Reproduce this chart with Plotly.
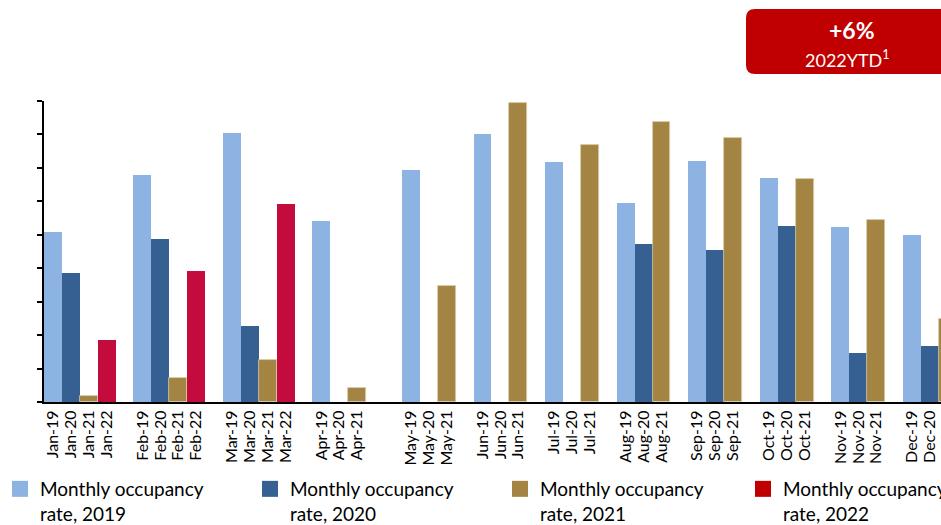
import plotly.graph_objects as go

months = ["Jan", "Feb", "Mar", "Apr", "May", "Jun", "Jul", "Aug", "Sep", "Oct", "Nov", "Dec"]
occ_2019 = [50.7, 67.9, 80.5, 54.1, 69.4, 80.2, 71.8, 59.5, 72.1, 67.0, 52.3, 49.9]
occ_2020 = [38.7, 48.7, 22.6, 0, 0, 0, 0, 47.2, 45.4, 52.6, 14.8, 16.6]
occ_2021 = [1.9, 7.3, 12.7, 4.3, 34.8, 89.4, 76.7, 83.7, 79.0, 66.6, 54.3, 24.9]
occ_2022 = [18.4, 39.1, 59.2]
series_names = ["Monthly occupancy<br>rate, 2019", "Monthly occupancy<br>rate, 2020",
                "Monthly occupancy<br>rate, 2021", "Monthly occupancy<br>rate, 2022"]
bar_colors = ["#8DB3E2", "#366092", "#A38442", "#C30C3D"]
legend_colors = ["#8DB3E2", "#366092", "#A38442", "#C00000"]
years = ["19", "20", "21", "22"]

# Build the slot layout of the category axis
categories = []
labeled = []
blank_n = [0]

def blank():
    blank_n[0] += 1
    return " " * blank_n[0]

x_by_year = {y: [] for y in years}
y_by_year = {y: [] for y in years}
values = {"19": occ_2019, "20": occ_2020, "21": occ_2021, "22": occ_2022}
for i, m in enumerate(months):
    for y in years[:3]:
        lab = f"{m}-{y}"
        categories.append(lab)
        labeled.append(lab)
        x_by_year[y].append(lab)
        y_by_year[y].append(values[y][i])
    if i < 4:
        if i < len(occ_2022):
            lab = f"{m}-22"
            categories.append(lab)
            labeled.append(lab)
            x_by_year["22"].append(lab)
            y_by_year["22"].append(occ_2022[i])
        else:
            categories.append(blank())
    if i < len(months) - 1:
        categories.append(blank())

fig = go.Figure()
for k, y in enumerate(years):
    fig.add_trace(go.Bar(
        x=x_by_year[y], y=y_by_year[y], name=series_names[k],
        marker=dict(color=bar_colors[k],
                    line=dict(width=0.8 if y == "21" else 0, color="#D9CBA6")),
        showlegend=False,
    ))
for k in range(4):
    fig.add_trace(go.Scatter(
        x=[None], y=[None], mode="markers", name=series_names[k],
        marker=dict(symbol="square", size=16, color=legend_colors[k]),
        showlegend=True, legend="legend2" if k == 3 else "legend",
    ))

W, H = 941, 525
L, R, T, B = 44, 0, 101, 123
pw, ph = W - L - R, H - T - B

def px(x):
    return (x - L) / pw

def py(y):
    return (H - B - y) / ph

# rounded red box
x0, x1, y0, y1, r = 746, 952, 9, 74, 9
rx, ry = r / pw, r / ph
path = (f"M {px(x0)+rx},{py(y0)} L {px(x1)-rx},{py(y0)} Q {px(x1)},{py(y0)} {px(x1)},{py(y0)-ry} "
        f"L {px(x1)},{py(y1)+ry} Q {px(x1)},{py(y1)} {px(x1)-rx},{py(y1)} "
        f"L {px(x0)+rx},{py(y1)} Q {px(x0)},{py(y1)} {px(x0)},{py(y1)+ry} "
        f"L {px(x0)},{py(y0)-ry} Q {px(x0)},{py(y0)} {px(x0)+rx},{py(y0)} Z")
fig.add_shape(type="path", xref="paper", yref="paper", path=path,
              fillcolor="#C00000", line=dict(width=0), layer="above")
fig.add_annotation(xref="paper", yref="paper", x=px(852), y=py(30),
                   xanchor="center", yanchor="middle",
                   text="<b>+6%</b>", showarrow=False,
                   font=dict(family="Lato", size=23, color="white"))
fig.add_annotation(xref="paper", yref="paper", x=px(847), y=py(59),
                   xanchor="center", yanchor="middle",
                   text="2022YTD<sup>1</sup>", showarrow=False,
                   font=dict(family="Lato", size=18, color="white"))

leg_common = dict(orientation="h", xref="container", yref="container", y=1 - 470 / H,
                  xanchor="left", yanchor="top", valign="top",
                  font=dict(size=19, color="black"), itemclick=False, itemdoubleclick=False)

fig.update_layout(
    width=W, height=H,
    margin=dict(l=L, r=R, t=T, b=B),
    paper_bgcolor="white", plot_bgcolor="white",
    barmode="overlay", bargap=0,
    font=dict(family="Lato", color="black"),
    legend=dict(x=0.0, entrywidth=205, entrywidthmode="pixels", **leg_common),
    legend2=dict(x=743 / W, **leg_common),
    xaxis=dict(type="category", categoryorder="array", categoryarray=categories,
               range=[-0.5, 49.62], tickmode="array", tickvals=labeled, ticktext=labeled,
               tickangle=-90, tickfont=dict(size=16, color="black"),
               showline=True, linecolor="black", linewidth=2, ticks="",
               showgrid=False, zeroline=False, fixedrange=True),
    yaxis=dict(range=[0, 90], tickmode="linear", tick0=0, dtick=10,
               showticklabels=False, ticks="outside", ticklen=5, tickwidth=2, tickcolor="black",
               showline=True, linecolor="black", linewidth=2,
               showgrid=False, zeroline=False, fixedrange=True),
)

fig.write_html("out.html")
